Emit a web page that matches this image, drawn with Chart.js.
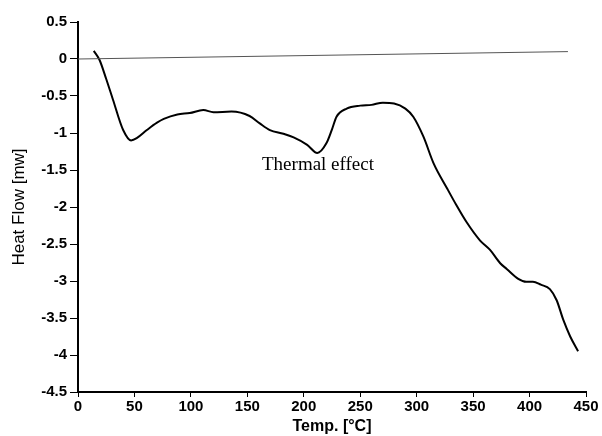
<!DOCTYPE html>
<html>
<head>
<meta charset="utf-8">
<script src="https://cdn.jsdelivr.net/npm/chart.js@4"></script>
<style>
  html, body { margin: 0; padding: 0; background: #fff; }
  #wrap { width: 602px; height: 436px; }
</style>
</head>
<body>
<div id="wrap"><canvas id="dsc"></canvas></div>
<script>
// Define your data
const temps = [14, 19, 25, 31, 40, 47, 52, 61, 70, 76, 88, 99, 111, 120, 136, 152, 161, 170, 182, 191,
  203, 212, 220, 225, 229, 238, 250, 260, 270, 280, 290, 297, 306, 315, 327, 335, 344, 356, 365, 374,
  380, 390, 397, 403, 410, 418, 424, 430, 436, 443];
const heatFlow = [0.11, -0.01, -0.27, -0.55, -0.96, -1.10, -1.07, -0.96, -0.86, -0.81, -0.75, -0.73, -0.69, -0.72, -0.71, -0.77, -0.87, -0.96, -1.01, -1.06,
  -1.16, -1.27, -1.14, -0.95, -0.78, -0.67, -0.63, -0.62, -0.59, -0.60, -0.67, -0.78, -1.05, -1.41, -1.75, -1.97, -2.20, -2.45, -2.58, -2.76,
  -2.84, -2.97, -3.01, -3.01, -3.05, -3.11, -3.26, -3.53, -3.75, -3.95];

// baseline drawn across the plot
const baseTemps = [0, 434];
const baseFlow = [0.0, 0.1];

const note = { text: "Thermal effect", x: 163, y: -1.43 };

const toXY = (xs, ys) => xs.map((x, i) => ({ x: x, y: ys[i] }));

// label for the annotation
const notePlugin = {
  id: "note",
  afterDatasetsDraw(chart) {
    const { ctx, scales } = chart;
    ctx.save();
    ctx.font = '19px "Liberation Serif", "Times New Roman", serif';
    ctx.fillStyle = "#000";
    ctx.textAlign = "left";
    ctx.textBaseline = "middle";
    ctx.fillText(note.text, scales.x.getPixelForValue(note.x), scales.y.getPixelForValue(note.y));
    ctx.restore();
  },
};

const tickFont = { family: '"Liberation Sans", Arial, sans-serif', size: 15, weight: "bold" };

// Get the canvas element by id
const ctxDsc = document.getElementById("dsc").getContext("2d");

// Create the chart
const dsc = new Chart(ctxDsc, {
  type: "line",
  data: {
    datasets: [
      {
        data: toXY(baseTemps, baseFlow),
        borderColor: "#555",
        borderWidth: 1,
        pointRadius: 0,
      },
      {
        data: toXY(temps, heatFlow),
        borderColor: "#000",
        borderWidth: 2,
        pointRadius: 0,
        tension: 0.4,
        cubicInterpolationMode: "monotone",
      },
    ],
  },
  options: {
    responsive: true,
    maintainAspectRatio: false,
    animation: false,
    layout: { padding: { top: 22, right: 16, left: 0, bottom: 0 } },
    plugins: { legend: { display: false }, tooltip: { enabled: false } },
    scales: {
      x: {
        type: "linear",
        min: 0,
        max: 450,
        afterFit: (scale) => { scale.height = 44; },
        ticks: { stepSize: 50, color: "#000", font: tickFont, padding: 1, maxRotation: 0 },
        grid: { drawOnChartArea: false, tickLength: 5, tickColor: "#000" },
        border: { color: "#000", width: 2 },
        title: {
          display: true,
          text: "Temp. [°C]",
          color: "#000",
          font: { family: '"Liberation Sans", Arial, sans-serif', size: 16, weight: "bold" },
          padding: { top: 0, bottom: 0 },
        },
      },
      y: {
        min: -4.5,
        max: 0.5,
        afterFit: (scale) => { scale.width = 78; },
        ticks: {
          stepSize: 0.5,
          color: "#000",
          font: tickFont,
          padding: 3,
          callback: (v) => String(Math.round(v * 10) / 10),
        },
        grid: { drawOnChartArea: false, tickLength: 8, tickColor: "#000" },
        border: { color: "#000", width: 2 },
        title: {
          display: true,
          text: "Heat Flow [mw]",
          color: "#000",
          font: { family: '"Liberation Sans", Arial, sans-serif', size: 17 },
          padding: { top: 9, bottom: 0 },
        },
      },
    },
  },
  plugins: [notePlugin],
});
</script>
</body>
</html>
